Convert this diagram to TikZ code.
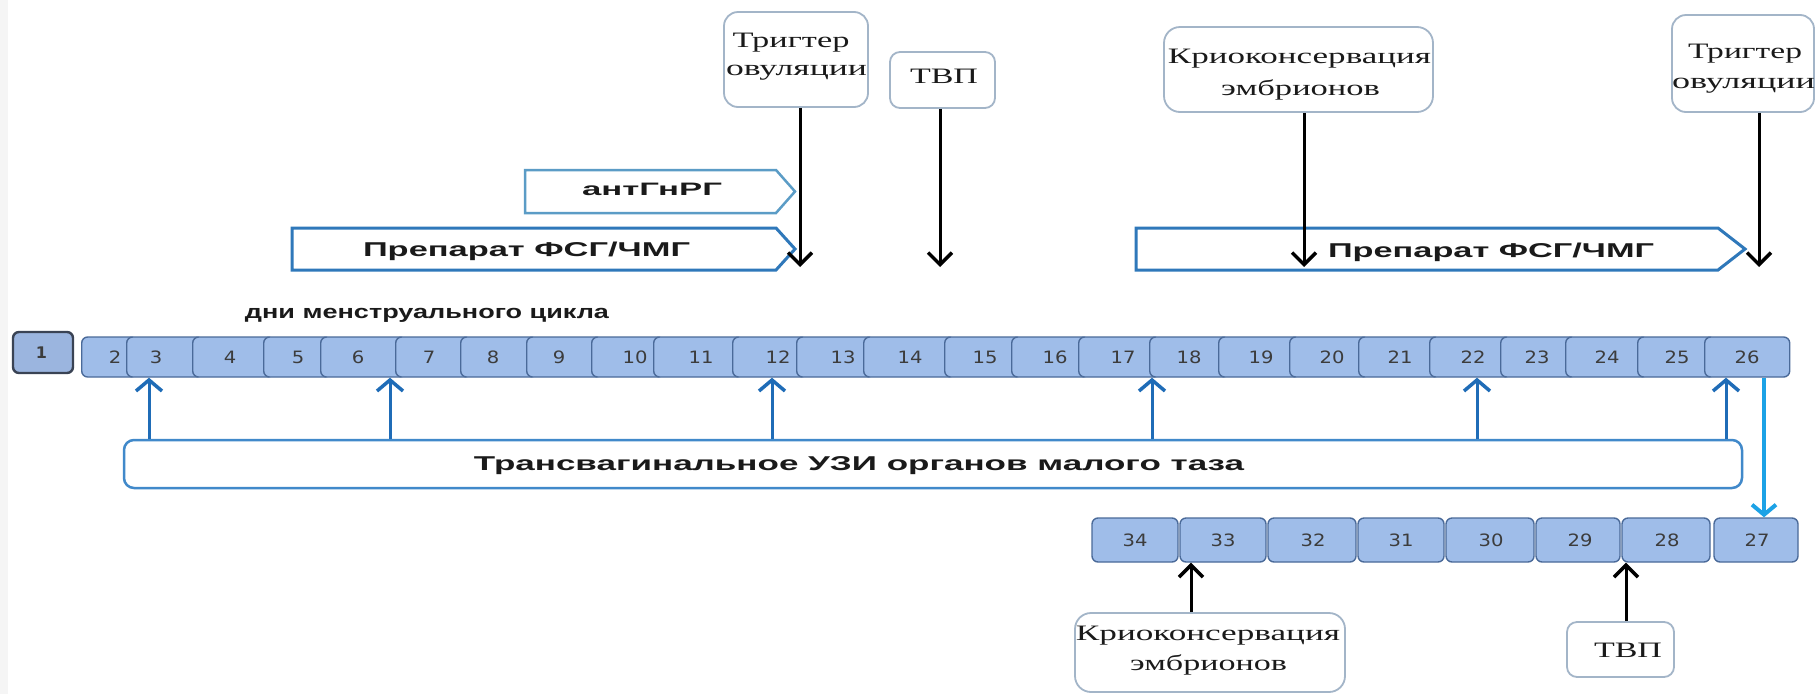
\documentclass[tikz,border=0pt]{standalone}
\usepackage{fontspec}
\usepackage{graphicx}
\setmainfont{Liberation Serif}
\newfontfamily\sansf{Liberation Sans}
\newfontfamily\dejavu{DejaVu Sans}
\usetikzlibrary{arrows.meta}
\definecolor{dayfill}{HTML}{9FBDE9}
\definecolor{dayline}{HTML}{4A6A99}
\definecolor{onefill}{HTML}{9BB5DF}
\definecolor{oneline}{HTML}{3A4354}
\definecolor{boxline}{HTML}{A3B5C8}
\definecolor{arrblue}{HTML}{1F6CB7}
\definecolor{lightarr}{HTML}{1CA2E6}
\definecolor{prepline}{HTML}{2F78BA}
\definecolor{antline}{HTML}{5B9CC6}
\definecolor{uziline}{HTML}{4189CA}
\definecolor{txt}{HTML}{1A1A1A}
\newcommand{\stretchto}[2]{\resizebox{#1pt}{\height}{#2}}
\tikzset{
  topbox/.style={draw=boxline, line width=1.8pt, rounded corners=14pt, fill=white, inner sep=0pt},
  daybox/.style={draw=dayline, line width=1.4pt, rounded corners=6pt, fill=dayfill, inner sep=0pt},
  daynum/.style={font=\dejavu\fontsize{17}{19}\selectfont, text=txt!85, inner sep=0pt},
  serif/.style={font=\fontsize{22}{24}\selectfont, anchor=base, inner sep=0pt, text=txt},
  sansbold/.style={font=\sansf\bfseries\fontsize{20}{22}\selectfont, anchor=base, inner sep=0pt, text=txt},
  blk/.style={draw=black, line width=3pt, -{Straight Barb[length=12pt,width=24pt,line width=3.5pt]}},
  blu/.style={draw=arrblue, line width=3pt, -{Straight Barb[length=11pt,width=26pt,line width=3.5pt]}},
  lblu/.style={draw=lightarr, line width=4pt, -{Straight Barb[length=10pt,width=24pt]}},
  chevron/.style={fill=white, line join=miter},
}
\begin{document}
\begin{tikzpicture}[x=1pt,y=-1pt]
\fill[white] (0,0) rectangle (1815,694);
\useasboundingbox (0,0) rectangle (1815,694);
\clip (0,0) rectangle (1815,694);
\fill[gray!8] (0,0) rectangle (8,694);

% ---- top callouts
\node[topbox, minimum width=144pt, minimum height=95pt] (trigA) at (796,59.5) {};
\node[serif] (trigAt1) at (791,47) {\stretchto{117}{Тригтер}};
\node[serif] (trigAt2) at (796.5,75) {\stretchto{141}{овуляции}};
\node[topbox, minimum width=105pt, minimum height=56pt, rounded corners=10pt] (tvpA) at (942.5,80) {};
\node[serif] (tvpAt) at (944,83) {\stretchto{68}{ТВП}};
\node[topbox, minimum width=269pt, minimum height=85pt, rounded corners=16pt] (cryoA) at (1298.5,69.5) {};
\node[serif] (cryoAt1) at (1299.5,63) {\stretchto{263}{Криоконсервация}};
\node[serif] (cryoAt2) at (1300.5,95) {\stretchto{159}{эмбрионов}};
\node[topbox, minimum width=142pt, minimum height=97pt] (trigB) at (1743,63.5) {};
\node[serif] (trigBt1) at (1745,58) {\stretchto{114}{Тригтер}};
\node[serif] (trigBt2) at (1743.5,88) {\stretchto{143}{овуляции}};

% ---- drug bars
\draw[chevron, draw=antline, line width=2.5pt] (525,170) -- (776,170) -- (795,191.5) -- (776,213) -- (525,213) -- cycle;
\node[sansbold, font=\sansf\bfseries\fontsize{18}{20}\selectfont] (antT) at (652,195) {\stretchto{140}{антГнРГ}};
\draw[chevron, draw=prepline, line width=3pt] (292,228) -- (776,228) -- (795,249) -- (776,270) -- (292,270) -- cycle;
\node[sansbold] (prepAt) at (526.5,256) {\stretchto{327}{Препарат ФСГ/ЧМГ}};
\draw[chevron, draw=prepline, line width=3pt] (1136,228) -- (1718,228) -- (1745,249) -- (1718,270) -- (1136,270) -- cycle;
\node[sansbold] (prepBt) at (1491,257) {\stretchto{326}{Препарат ФСГ/ЧМГ}};

% ---- top arrows
\coordinate (tipA) at (800,267);
\coordinate (tipB) at (940,267);
\coordinate (tipC) at (1304,267);
\coordinate (tipD) at (1759,267);
\draw[blk] (trigA.south -| tipA) -- (tipA);
\draw[blk] (tvpA.south -| tipB) -- (tipB);
\draw[blk] (cryoA.south -| tipC) -- (tipC);
\draw[blk] (trigB.south -| tipD) -- (tipD);

% ---- day row
\node[sansbold, font=\sansf\bfseries\fontsize{19}{21}\selectfont] (daysT) at (427,318) {\stretchto{364}{дни менструального цикла}};
\node[daybox, draw=oneline, fill=onefill, line width=2.4pt, minimum width=60pt, minimum height=41pt] (d1) at (43,352.5) {};
\node[daynum, font=\dejavu\bfseries\fontsize{16}{18}\selectfont] (n1) at (41.5,353) {1};
\foreach \n/\l/\r/\t in {2/81/126/115, 3/126/192/156, 4/192/263/230, 5/263/320/298, 6/320/395/358,
  7/395/460/429, 8/460/526/493, 9/526/591/559, 10/591/653/635, 11/653/732/701, 12/732/796/778,
  13/796/863/843, 14/863/944/910, 15/944/1011/985, 16/1011/1078/1055, 17/1078/1149/1123,
  18/1149/1218/1189, 19/1218/1289/1261, 20/1289/1358/1332, 21/1358/1429/1400, 22/1429/1500/1473,
  23/1500/1565/1537, 24/1565/1637/1607, 25/1637/1704/1677} {
  \pgfmathsetmacro\w{\r-\l+10}
  \node[daybox, anchor=west, minimum width=\w pt, minimum height=40pt] (d\n) at (\l,357) {};
  \node[daynum] (n\n) at (\t,357.5) {\scalebox{1.15}[1]{\n}};
}
\node[daybox, anchor=west, minimum width=85pt, minimum height=40pt] (d26) at (1704,357) {};
\node[daynum] (n26) at (1747,357.5) {\scalebox{1.15}[1]{26}};

% ---- ultrasound bar
\node[draw=uziline, line width=2.5pt, rounded corners=10pt, fill=white, inner sep=0pt,
  minimum width=1618pt, minimum height=48pt] (uzi) at (933,464) {};
\node[sansbold] (uziT) at (859,470) {\stretchto{770}{Трансвагинальное УЗИ органов малого таза}};
\coordinate (u1) at (149,0);
\coordinate (u2) at (390,0);
\coordinate (u3) at (772,0);
\coordinate (u4) at (1152,0);
\coordinate (u5) at (1477,0);
\coordinate (u6) at (1726,0);
\draw[blu] (uzi.north -| u1) -- (d3.south -| u1);
\draw[blu] (uzi.north -| u2) -- (d6.south -| u2);
\draw[blu] (uzi.north -| u3) -- (d12.south -| u3);
\draw[blu] (uzi.north -| u4) -- (d18.south -| u4);
\draw[blu] (uzi.north -| u5) -- (d22.south -| u5);
\draw[blu] (uzi.north -| u6) -- (d26.south -| u6);

% ---- second row (27..34)
\foreach \n/\l/\r/\t in {34/1091/1179/1135, 33/1179/1267/1223, 32/1267/1357/1313, 31/1357/1445/1401,
  30/1445/1535/1491, 29/1535/1621/1580, 28/1621/1711/1667, 27/1713/1799/1757} {
  \pgfmathsetmacro\w{\r-\l-2}
  \pgfmathsetmacro\c{(\r+\l)/2}
  \node[daybox, minimum width=\w pt, minimum height=44pt] (b\n) at (\c,540) {};
  \node[daynum] (m\n) at (\t,540) {\scalebox{1.15}[1]{\n}};
}
\coordinate (lb) at (1764,0);
\draw[lblu] (d26.south -| lb) -- (b27.north -| lb);

% ---- bottom callouts
\node[topbox, minimum width=270pt, minimum height=79pt, rounded corners=16pt] (cryoB) at (1210,652.5) {};
\node[serif] (cryoBt1) at (1208,640) {\stretchto{264}{Криоконсервация}};
\node[serif] (cryoBt2) at (1208.5,670) {\stretchto{157}{эмбрионов}};
\node[topbox, minimum width=107pt, minimum height=55pt, rounded corners=10pt] (tvpB) at (1620.5,649.5) {};
\node[serif] (tvpBt) at (1628,657) {\stretchto{68}{ТВП}};
\coordinate (bA) at (1191,0);
\coordinate (bB) at (1626,0);
\draw[blk] (cryoB.north -| bA) -- (b33.south -| bA);
\draw[blk] (tvpB.north -| bB) -- (b28.south -| bB);
\end{tikzpicture}
\end{document}
